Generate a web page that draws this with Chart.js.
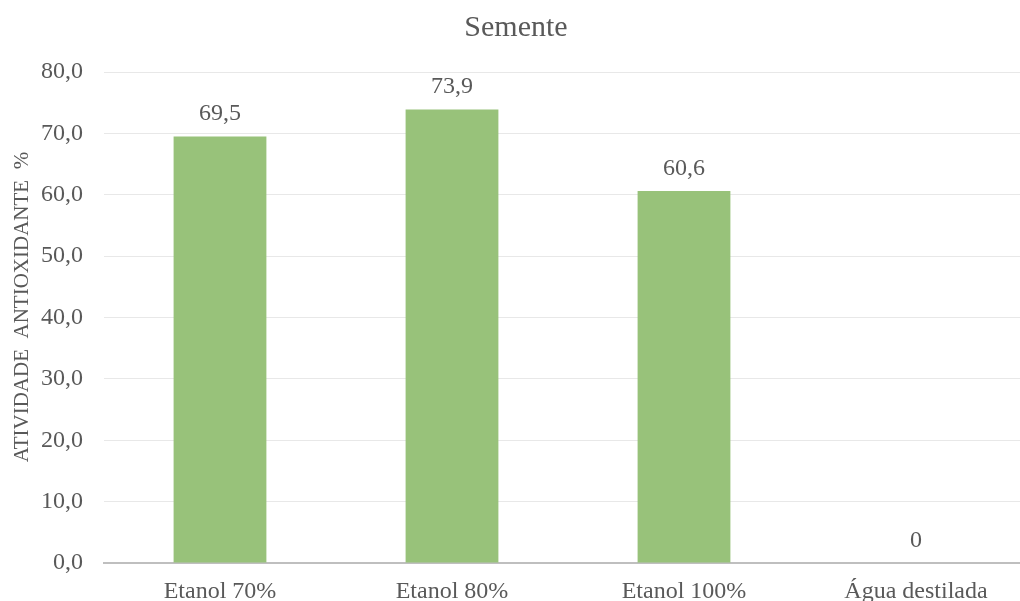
<!DOCTYPE html>
<html>
<head>
<meta charset="utf-8">
<script src="https://cdn.jsdelivr.net/npm/chart.js@4"></script>
<style>
  html, body { margin: 0; padding: 0; background: #fff; overflow: hidden; }
</style>
</head>
<body>
<canvas id="chart" width="1032" height="601"></canvas>
<script>
const categories = ['Etanol 70%', 'Etanol 80%', 'Etanol 100%', 'Água destilada'];
const values = [69.5, 73.9, 60.6, 0];
const valueLabels = ['69,5', '73,9', '60,6', '0'];
const yTicks = [0, 10, 20, 30, 40, 50, 60, 70, 80];

const textColor = '#595959';
const fontFamily = '"Liberation Serif", "Times New Roman", serif';

// numbers above the bars + rotated y axis title
const extraText = {
  id: 'extraText',
  afterDatasetsDraw(chart) {
    const ctx = chart.ctx;
    const meta = chart.getDatasetMeta(0);
    ctx.save();
    ctx.font = '24px ' + fontFamily;
    ctx.fillStyle = textColor;
    ctx.textAlign = 'center';
    ctx.textBaseline = 'alphabetic';
    meta.data.forEach((bar, i) => {
      ctx.fillText(valueLabels[i], bar.x, bar.y - 16);
    });
    ctx.restore();

    ctx.save();
    ctx.font = '21px ' + fontFamily;
    ctx.fillStyle = textColor;
    ctx.textAlign = 'center';
    ctx.textBaseline = 'middle';
    ctx.translate(22, 307);
    ctx.rotate(-Math.PI / 2);
    ctx.fillText('ATIVIDADE  ANTIOXIDANTE  %', 0, 0);
    ctx.restore();
  }
};

window.onload = function () {
  const ctx = document.getElementById('chart').getContext('2d');
  new Chart(ctx, {
    type: 'bar',
    data: {
      labels: categories,
      datasets: [{
        data: values,
        backgroundColor: '#98C27A',
        categoryPercentage: 1,
        barPercentage: 0.4
      }]
    },
    options: {
      responsive: false,
      animation: false,
      devicePixelRatio: 1,
      layout: { padding: 0 },
      plugins: {
        legend: { display: false },
        tooltip: { enabled: false },
        title: {
          display: true,
          text: 'Semente',
          color: textColor,
          font: { family: fontFamily, size: 30, weight: 'normal' },
          padding: { top: 10, bottom: 26 }
        }
      },
      scales: {
        x: {
          grid: { display: false, drawTicks: false },
          border: { color: '#BFBFBF', width: 2 },
          ticks: {
            color: textColor,
            font: { family: fontFamily, size: 24 },
            padding: 14,
            maxRotation: 0
          },
          afterFit(scale) { scale.height = 38; }
        },
        y: {
          min: 0,
          max: 80,
          afterBuildTicks(scale) { scale.ticks = yTicks.map(v => ({ value: v })); },
          grid: { color: '#E8E8E8', lineWidth: 1, drawTicks: false },
          border: { display: false },
          ticks: {
            color: textColor,
            font: { family: fontFamily, size: 24 },
            padding: 21,
            callback: v => v.toFixed(1).replace('.', ',')
          },
          afterFit(scale) { scale.width = 104; }
        }
      }
    },
    plugins: [extraText]
  });
};
</script>
</body>
</html>
